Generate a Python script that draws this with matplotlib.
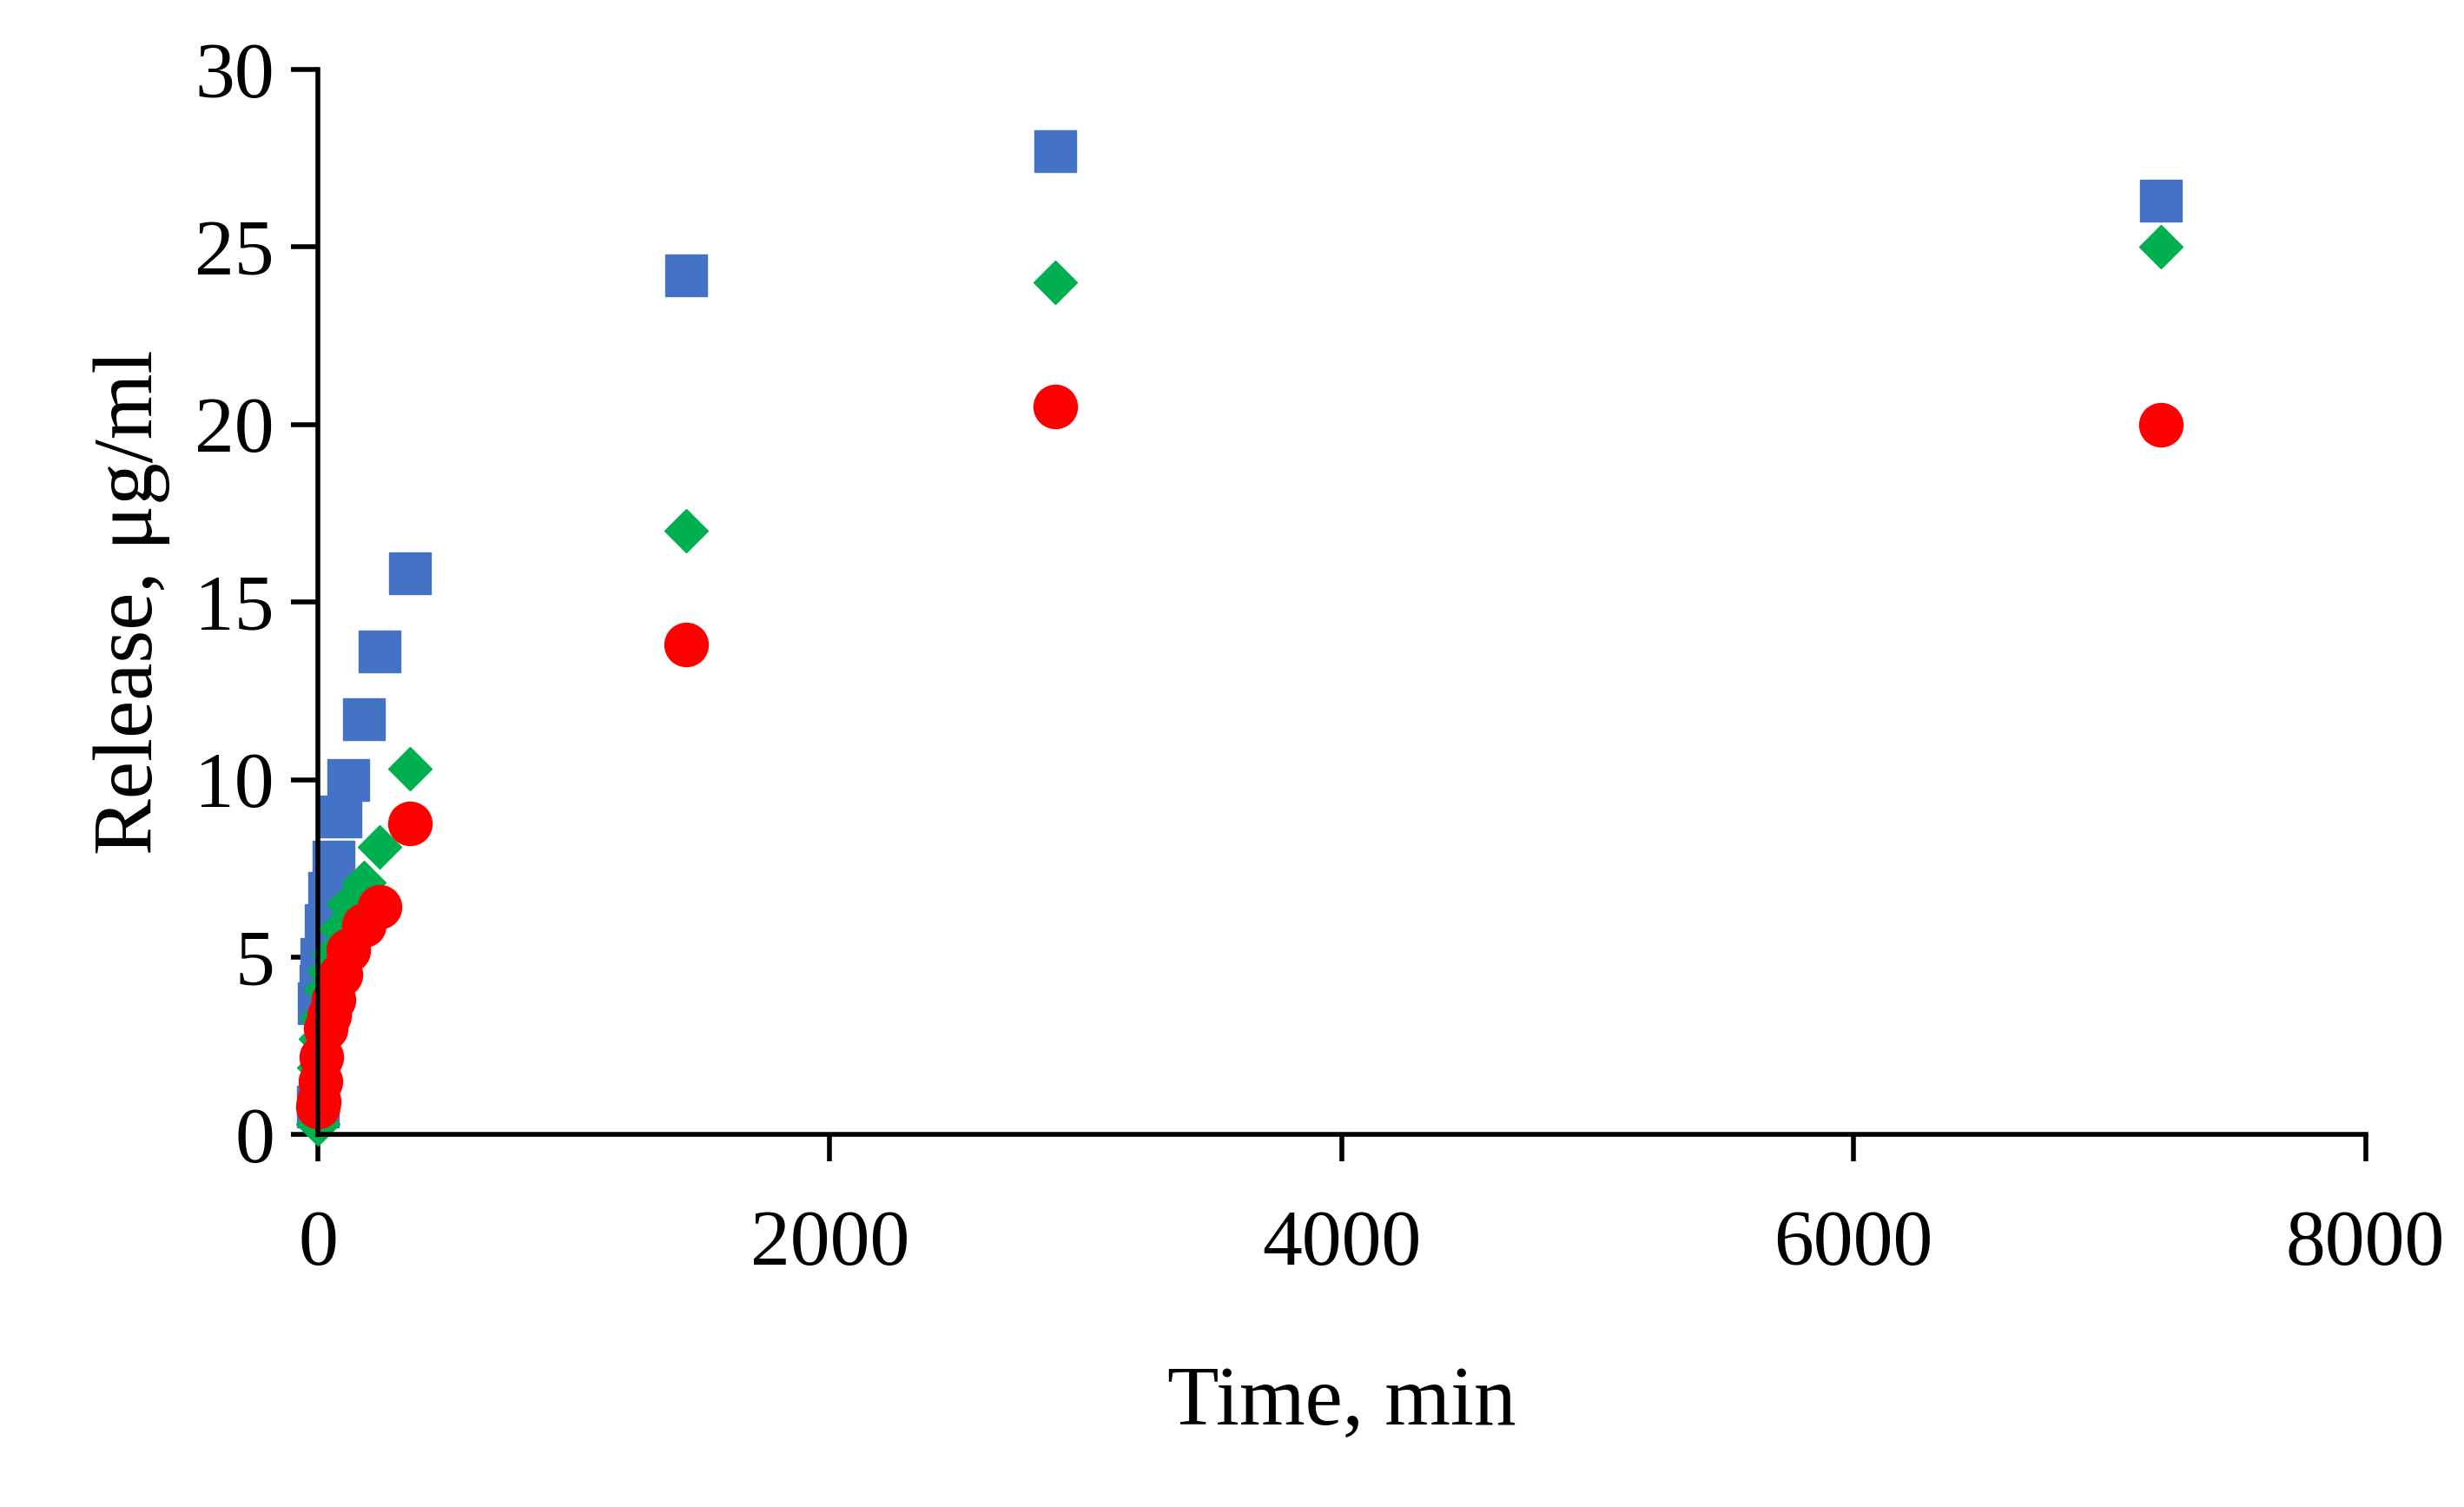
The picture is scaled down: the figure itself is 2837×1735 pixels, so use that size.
import matplotlib
matplotlib.use('Agg')
import matplotlib.pyplot as plt

# release data, time in min
t_blue = [0, 5, 10, 15, 30, 45, 60, 90, 120, 180, 240, 360, 1440, 2880, 7200]
blue = [0.8, 3.7, 4.2, 4.95, 5.9, 6.8, 7.7, 8.97, 10.0, 11.7, 13.6, 15.8, 24.2, 27.7, 26.3]

t_green = [0, 5, 10, 15, 30, 45, 60, 90, 120, 180, 240, 360, 1440, 2880, 7200]
green = [0.3, 1.9, 2.7, 3.3, 4.1, 4.6, 5.1, 5.8, 6.5, 7.1, 8.1, 10.3, 17.0, 24.0, 25.0]

t_red = [0, 5, 10, 15, 30, 45, 60, 90, 120, 180, 240, 360, 1440, 2880, 7200]
red = [0.8, 0.95, 1.5, 2.2, 3.0, 3.37, 3.8, 4.5, 5.2, 5.9, 6.43, 8.77, 13.8, 20.5, 20.0]

plt.rcParams['font.family'] = ['Liberation Serif', 'DejaVu Serif']

fig = plt.figure(figsize=(28.37, 17.35), dpi=100)
ax = fig.add_axes([0.129, 0.247, 0.831, 0.707])

ax.plot(t_blue, blue, 's', color='#4472C4', markersize=34, clip_on=False)
ax.plot(t_green, green, 'D', color='#00B050', markersize=25, clip_on=False)
ax.plot(t_red, red, 'o', color='#FF0000', markersize=36, clip_on=False)

ax.set_xlim(0, 8000)
ax.set_ylim(0, 30)
ax.set_xticks([0, 2000, 4000, 6000, 8000])
ax.set_yticks([0, 5, 10, 15, 20, 25, 30])
for s in ['top', 'right']:
    ax.spines[s].set_visible(False)
for s in ['left', 'bottom']:
    ax.spines[s].set_linewidth(4)
ax.tick_params(direction='out', width=4, length=22, labelsize=66)
ax.tick_params(axis='x', pad=40)
ax.tick_params(axis='y', pad=14)
ax.set_xlabel('Time, min', fontsize=70, labelpad=70)
ax.set_ylabel('Release, μg/ml', fontsize=70, labelpad=20)

fig.savefig('out.png', dpi=100)
